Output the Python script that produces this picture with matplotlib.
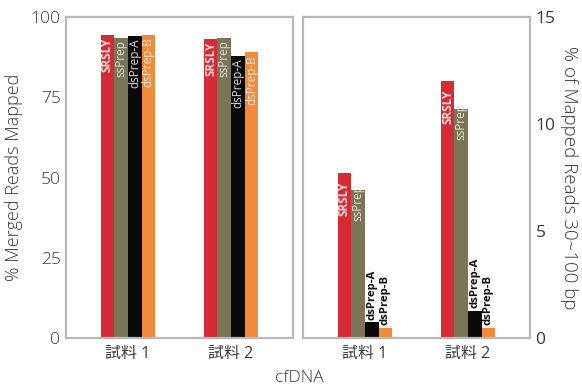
import numpy as np
import matplotlib
matplotlib.use("Agg")
import matplotlib.pyplot as plt

plt.rcParams['font.family'] = ['Open Sans', 'Noto Sans CJK JP', 'DejaVu Sans']

samples = ["試料 1", "試料 2"]
methods = ["SRSLY", "ssPrep", "dsPrep-A", "dsPrep-B"]
colors = ["#d52b35", "#7b7558", "#0a0a0a", "#f28a3b"]
label_colors = ["#f6dada", "#e4e2d8", "#d8d8d8", "#fde6d2"]
label_weights = ["bold", "normal", "normal", "normal"]

# % Merged Reads Mapped
mapped = {
    "SRSLY": [94.4, 93.3],
    "ssPrep": [93.6, 93.5],
    "dsPrep-A": [94.0, 87.9],
    "dsPrep-B": [94.5, 89.0],
}
# % of Mapped Reads 30~100 bp
short = {
    "SRSLY": [7.7, 12.0],
    "ssPrep": [6.9, 10.7],
    "dsPrep-A": [0.73, 1.26],
    "dsPrep-B": [0.48, 0.48],
}

fig = plt.figure(figsize=(5.82, 3.89), dpi=100)
ax1 = fig.add_axes([0.1134, 0.1311, 0.390, 0.825])
ax2 = fig.add_axes([0.5206, 0.1311, 0.390, 0.825])

x = np.arange(len(samples))
w = 0.132
spine_c = "#b8b8b8"
text_c = "#3a3a3a"


def draw(ax, data, ymax, right):
    for i, m in enumerate(methods):
        pos = x + (i - 1.5) * w
        bars = ax.bar(pos, data[m], w, color=colors[i], edgecolor="none", zorder=2)
        for j, b in enumerate(bars):
            h = data[m][j]
            if right and h < ymax * 0.2:
                ax.text(pos[j], h + ymax * 0.008, m, rotation=90, ha="center", va="bottom",
                        fontsize=8.2, fontweight="bold", color="#111111", zorder=3)
                continue
            if not right:
                ty = h - 0.8
            elif m == "SRSLY":
                ty = h - 0.4
            else:
                # label sits a little above the bar top and gets cut off by it
                ty = h + 0.3
            t = ax.text(pos[j], ty, m, rotation=90, ha="center", va="top",
                        fontsize=8.5, fontweight=label_weights[i], color=label_colors[i], zorder=3)
            t.set_clip_path(b)
    ax.set_xlim(-0.6, 1.6)
    ax.set_ylim(0, ymax)
    ax.set_xticks(x)
    ax.set_xticklabels(samples, fontsize=11.5, color=text_c)
    for s in ax.spines.values():
        s.set_color(spine_c)
        s.set_linewidth(1.6)
    ax.tick_params(axis="x", length=0, pad=6, colors=text_c)
    ax.tick_params(axis="y", length=0, pad=4, labelsize=12.5, colors=text_c)


draw(ax1, mapped, 100, False)
ax1.set_yticks([0, 25, 50, 75, 100])
for lb in ax1.get_yticklabels():
    lb.set_fontweight("light")
ax1.set_ylabel("% Merged Reads Mapped", fontsize=13, fontweight="light", color=text_c, labelpad=5)

draw(ax2, short, 15, True)
ax2.set_yticks([0, 5, 10, 15])
for lb in ax2.get_yticklabels():
    lb.set_fontweight("light")
ax2.yaxis.tick_right()
ax2.yaxis.set_label_position("right")
ax2.set_ylabel("% of Mapped Reads 30~100 bp", fontsize=13.5, fontweight="light", color=text_c,
               rotation=270, labelpad=16)

fig.text(0.515, 0.028, "cfDNA", ha="center", va="center", fontsize=12.5, fontweight="light",
         color=text_c)

fig.savefig("out.png", dpi=100)
